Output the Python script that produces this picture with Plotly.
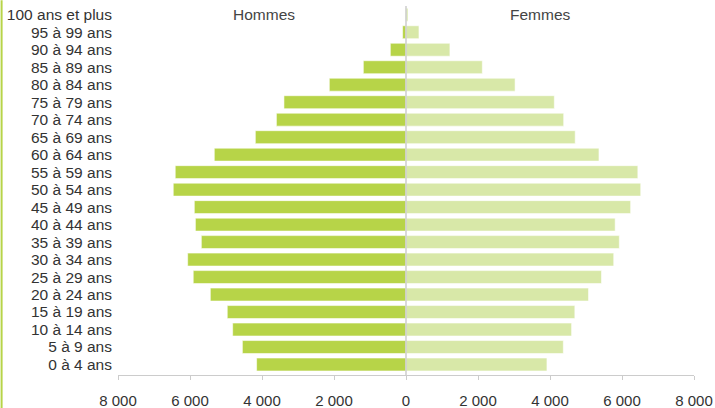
import plotly.graph_objects as go

ages = ["0 à 4 ans", "5 à 9 ans", "10 à 14 ans", "15 à 19 ans", "20 à 24 ans",
        "25 à 29 ans", "30 à 34 ans", "35 à 39 ans", "40 à 44 ans", "45 à 49 ans",
        "50 à 54 ans", "55 à 59 ans", "60 à 64 ans", "65 à 69 ans", "70 à 74 ans",
        "75 à 79 ans", "80 à 84 ans", "85 à 89 ans", "90 à 94 ans", "95 à 99 ans",
        "100 ans et plus"]

hommes = [4150, 4545, 4815, 4965, 5435, 5910, 6065, 5685, 5850, 5880,
          6465, 6410, 5325, 4185, 3600, 3390, 2130, 1185, 435, 95, 10]

femmes = [3915, 4370, 4600, 4690, 5070, 5430, 5770, 5925, 5810, 6240,
          6520, 6440, 5360, 4700, 4380, 4120, 3030, 2120, 1220, 360, 55]

tick_vals = [-8000, -6000, -4000, -2000, 0, 2000, 4000, 6000, 8000]
tick_text = ["8 000", "6 000", "4 000", "2 000", "0", "2 000", "4 000", "6 000", "8 000"]

dark = "#b7d448"
light = "#d8e8a8"
font = "Liberation Sans, Arial, sans-serif"
fs = 15.5

fig = go.Figure()
fig.add_trace(go.Bar(
    y=ages, x=[-v for v in hommes], orientation="h", name="Hommes",
    marker=dict(color=dark, line=dict(color="rgba(255,255,255,0.7)", width=0.8)),
    customdata=hommes, hovertemplate="%{y}: %{customdata}<extra>Hommes</extra>",
))
fig.add_trace(go.Bar(
    y=ages, x=femmes, orientation="h", name="Femmes",
    marker=dict(color=light, line=dict(color="rgba(255,255,255,0.7)", width=0.8)),
    hovertemplate="%{y}: %{x}<extra>Femmes</extra>",
))

W, H = 715, 408
ml, mr, mt, mb = 117.5, 21, 5.75, 33

fig.update_layout(
    width=W, height=H,
    barmode="overlay", bargap=0.26,
    showlegend=False,
    plot_bgcolor="white", paper_bgcolor="white",
    margin=dict(l=ml, r=mr, t=mt, b=mb, pad=0, autoexpand=False),
    font=dict(family=font, size=fs, color="#333333"),
    xaxis=dict(
        range=[-8000, 8000], tickmode="array", tickvals=tick_vals, ticktext=tick_text,
        showgrid=False, zeroline=False, automargin=False,
        showline=True, linecolor="#cccccc", linewidth=1,
        ticks="outside", ticklen=4, tickcolor="#cccccc",
        ticklabelstandoff=8,
        tickfont=dict(size=15, color="#333333"),
        fixedrange=True,
    ),
    yaxis=dict(
        type="category", categoryorder="array", categoryarray=ages,
        tickmode="array", tickvals=ages, ticktext=ages,
        range=[-0.6, 20.5], automargin=False,
        showgrid=False, zeroline=False, showline=False, ticks="",
        ticklabelstandoff=5,
        tickfont=dict(size=fs, color="#333333"),
        fixedrange=True,
    ),
    annotations=[
        dict(x=-3950, y=20, xref="x", yref="y", text="Hommes", showarrow=False,
             font=dict(size=fs, color="#444444"), xanchor="center", yanchor="middle"),
        dict(x=3730, y=20, xref="x", yref="y", text="Femmes", showarrow=False,
             font=dict(size=fs, color="#444444"), xanchor="center", yanchor="middle"),
    ],
    shapes=[
        dict(type="line", xref="x", yref="paper", x0=0, x1=0, y0=0, y1=1,
             line=dict(color="#cccccc", width=1.5), layer="above"),
        dict(type="rect", xref="paper", yref="paper",
             x0=-ml / (W - ml - mr), x1=(2 - ml) / (W - ml - mr),
             y0=-mb / (H - mt - mb), y1=1 + mt / (H - mt - mb),
             fillcolor=dark, line=dict(width=0), layer="above"),
    ],
)

fig.write_html(
    "out.html",
    config={"displayModeBar": False},
    post_script="document.body.style.margin='0';document.body.style.overflow='hidden';",
)
